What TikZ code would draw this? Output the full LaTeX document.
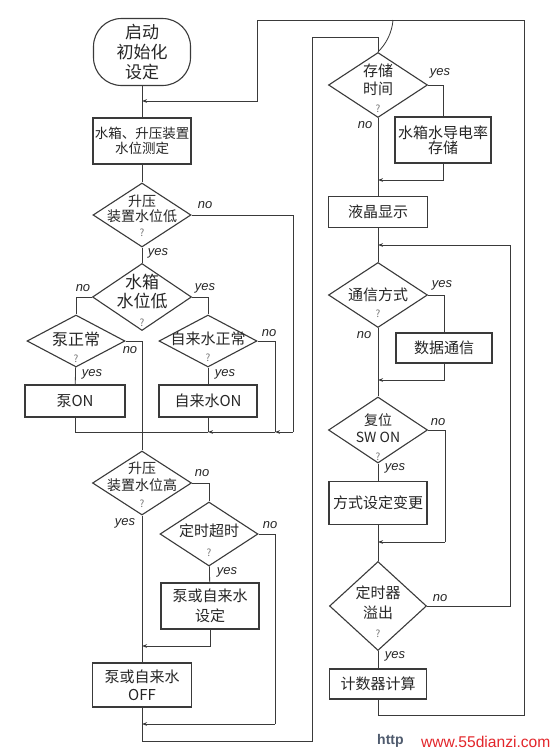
\documentclass[tikz,border=0pt]{standalone}
\usepackage{fontspec}
\newfontfamily\cjk{Noto Sans CJK SC}
\newfontfamily\labfont{Liberation Sans}
\usetikzlibrary{shapes.geometric,arrows.meta}
\definecolor{ink}{HTML}{3A3A3A}
\definecolor{txt}{HTML}{262626}
\definecolor{wmred}{HTML}{E3262B}
\definecolor{wmgray}{HTML}{4F5B6E}
\newcommand{\cjkfs}[2]{\cjk\fontsize{#1}{#2}\selectfont}
\newcommand{\qmark}{{\fontsize{10}{10}\selectfont\color{black!55}?}}
\tikzset{
  conn/.style={draw=ink, line width=0.8pt},
  arr/.style={conn, -{Stealth[length=5pt,width=3.6pt]}},
  shp/.style={draw=ink, line width=1.1pt, inner sep=0pt, text=txt, align=center},
  boxn/.style={shp, rectangle},
  dian/.style={shp, diamond},
  term/.style={shp, rectangle, rounded corners=28pt},
  tx/.style={text=txt, align=center, inner sep=0pt},
  yn/.style={text=txt, inner sep=0pt, font=\labfont\itshape\fontsize{13}{13}\selectfont},
}
\begin{document}
\begin{tikzpicture}[x=1pt,y=-1pt]
\fill[white] (0,0) rectangle (556,755);
\useasboundingbox (0,0) rectangle (556,755);

% ---------- left column ----------
\node[term, minimum width=97pt, minimum height=67pt, font=\cjkfs{17}{20}] (start) at (142,52) {启动\\初始化\\设定};
\node[boxn, minimum width=98pt, minimum height=46pt, font=\cjkfs{13.5}{15}] (meas) at (142,141) {水箱、升压装置\\水位测定};

\node[dian, minimum width=98pt, minimum height=64pt] (d1) at (142,215) {};
\node[tx, font=\cjkfs{14}{15}] (d1t) at (142,216) {升压\\装置水位低\\\qmark};

\node[dian, minimum width=99pt, minimum height=67pt] (d2) at (142,297) {};
\node[tx, font=\cjkfs{17}{19}] (d2t) at (142,300) {水箱\\水位低\\\qmark};

\node[dian, minimum width=98pt, minimum height=52pt] (d3) at (76,341) {};
\node[tx, font=\cjkfs{16}{17}] (d3t) at (76,347) {泵正常\\\qmark};

\node[dian, minimum width=98pt, minimum height=52pt] (d4) at (208,341) {};
\node[tx, font=\cjkfs{15}{17}] (d4t) at (208,347) {自来水正常\\\qmark};

\node[boxn, minimum width=100pt, minimum height=32pt, font=\cjkfs{15}{17}] (bpump) at (75,401) {泵ON};
\node[boxn, minimum width=98pt, minimum height=32pt, font=\cjkfs{15}{17}] (btap) at (208,401) {自来水ON};

\node[dian, minimum width=99pt, minimum height=64pt] (d5) at (142,483) {};
\node[tx, font=\cjkfs{14}{17}] (d5t) at (142,485) {升压\\装置水位高\\\qmark};

\node[dian, minimum width=98pt, minimum height=64pt] (d6) at (209,534) {};
\node[tx, font=\cjkfs{15}{20}] (d6t) at (209,540) {定时超时\\\qmark};

\node[boxn, minimum width=98pt, minimum height=46pt, font=\cjkfs{15}{20}] (bset) at (210,606) {泵或自来水\\设定};
\node[boxn, minimum width=99pt, minimum height=44pt, font=\cjkfs{15}{18}] (boff) at (142,685) {泵或自来水\\OFF};

% ---------- right column ----------
\node[dian, minimum width=99pt, minimum height=65pt] (d7) at (378,85) {};
\node[tx, font=\cjkfs{15}{18}] (d7t) at (378,88) {存储\\时间\\\qmark};
\node[boxn, minimum width=96pt, minimum height=46pt, font=\cjkfs{15}{15}] (bstore) at (443,140) {水箱水导电率\\存储};
\node[boxn, minimum width=99pt, minimum height=31pt, font=\cjkfs{15}{17}] (blcd) at (378,212) {液晶显示};

\node[dian, minimum width=99pt, minimum height=65pt] (d8) at (378,295) {};
\node[tx, font=\cjkfs{15}{17}] (d8t) at (378,303) {通信方式\\\qmark};
\node[boxn, minimum width=96pt, minimum height=30pt, font=\cjkfs{15}{17}] (bcomm) at (444,348) {数据通信};

\node[dian, minimum width=99pt, minimum height=66pt] (d9) at (378,430) {};
\node[tx, font=\cjkfs{14}{17.5}] (d9t) at (378,437) {复位\\SW\ ON\\\qmark};
\node[boxn, minimum width=98pt, minimum height=43pt, font=\cjkfs{15}{17}] (bmode) at (378,503) {方式设定变更};

\node[dian, minimum width=97pt, minimum height=89pt] (d10) at (378,606) {};
\node[tx, font=\cjkfs{15}{19.5}] (d10t) at (378,612) {定时器\\溢出\\\qmark};
\node[boxn, minimum width=97pt, minimum height=30pt, font=\cjkfs{15}{17}] (bcount) at (378,684) {计数器计算};

% ---------- junction coordinates ----------
\coordinate (j0) at (142,101);
\coordinate (tl) at (257,20);
\coordinate (tr) at (524,20);
\coordinate (br) at (524,715);
\coordinate (cv) at (393,20);
\coordinate (ul) at (312,37);
\coordinate (bl) at (312,741);
\coordinate (m142) at (142,432);
\coordinate (m208) at (208,432);
\coordinate (m275) at (275,432);
\coordinate (m293) at (293,432);
\coordinate (m724r) at (275,724);
\coordinate (m724l) at (142,724);
\coordinate (m646) at (142,646);
\coordinate (r180) at (378,180);
\coordinate (r380) at (378,380);
\coordinate (r542r) at (445,542);
\coordinate (r542) at (378,542);
\coordinate (r245r) at (510,245);
\coordinate (r245) at (378,245);

% ---------- connectors: left ----------
\draw[conn] (start) -- (meas);
\draw[arr] (bcount.south) |- (br) -- (tr) -- (tl) |- (j0);
\draw[conn] (cv) .. controls (392,33) and (386,44) .. (d7.north);
\draw[conn] (boff.south) |- (bl) -- (ul) -| (d7.north);
\draw[conn] (meas) -- (d1);
\draw[conn] (d1.east) -| (m293);
\draw[arr] (m293) -- (m275);
\draw[arr] (m275) -- (m208);
\draw[conn] (m208) -- (m142);
\draw[conn] (d1) -- (d2);
\draw[conn] (d2.west) -| (d3.north);
\draw[conn] (d2.east) -| (d4.north);
\draw[conn] (d3) -- (bpump);
\draw[conn] (d4) -- (btap);
\draw[conn] (d3.east) -| (m142);
\draw[conn] (d4.east) -| (m275);
\draw[conn] (bpump.south) |- (m142);
\draw[conn] (btap.south) -- (m208);
\draw[conn] (m142) -- (d5.north);
\draw[conn] (d5.east) -| (d6.north);
\draw[conn] (d5) -- (boff);
\draw[conn] (d6) -- (bset);
\draw[conn] (d6.east) -| (m724r);
\draw[arr] (m724r) -- (m724l);
\draw[arr] (bset.south) |- (m646);

% ---------- connectors: right ----------
\draw[conn] (d7.east) -| (bstore.north);
\draw[conn] (d7) -- (blcd);
\draw[arr] (bstore.south) |- (r180);
\draw[conn] (blcd) -- (d8);
\draw[conn] (d8.east) -| (bcomm.north);
\draw[conn] (d8) -- (d9);
\draw[arr] (bcomm.south) |- (r380);
\draw[conn] (d9.east) -| (r542r);
\draw[arr] (r542r) -- (r542);
\draw[conn] (d9) -- (bmode);
\draw[conn] (bmode) -- (d10);
\draw[conn] (d10.east) -| (r245r);
\draw[arr] (r245r) -- (r245);
\draw[conn] (d10) -- (bcount);

% ---------- yes / no labels ----------
\node[yn] (l1n) at (205,205) {no};
\node[yn] (l1y) at (158,253) {yes};
\node[yn] (l2n) at (83,288) {no};
\node[yn] (l2y) at (205,288) {yes};
\node[yn] (l3n) at (130,350) {no};
\node[yn] (l3y) at (92,374) {yes};
\node[yn] (l4n) at (269,333) {no};
\node[yn] (l4y) at (225,374) {yes};
\node[yn] (l5n) at (202,473) {no};
\node[yn] (l5y) at (125,523) {yes};
\node[yn] (l6n) at (270,525) {no};
\node[yn] (l6y) at (227,572) {yes};
\node[yn] (l7y) at (440,73) {yes};
\node[yn] (l7n) at (365,125) {no};
\node[yn] (l8y) at (442,285) {yes};
\node[yn] (l8n) at (364,335) {no};
\node[yn] (l9n) at (438,422) {no};
\node[yn] (l9y) at (395,468) {yes};
\node[yn] (l10n) at (440,598) {no};
\node[yn] (l10y) at (395,656) {yes};

% ---------- watermark ----------
\node[anchor=west, inner sep=0pt, font=\labfont\bfseries\fontsize{14}{14}\selectfont, text=wmgray] (wmh) at (377,741) {http};
\node[anchor=west, inner sep=0pt, font=\labfont\fontsize{15.6}{15.6}\selectfont, text=wmred] (wm) at (421,742) {www.55dianzi.com};
\end{tikzpicture}
\end{document}
